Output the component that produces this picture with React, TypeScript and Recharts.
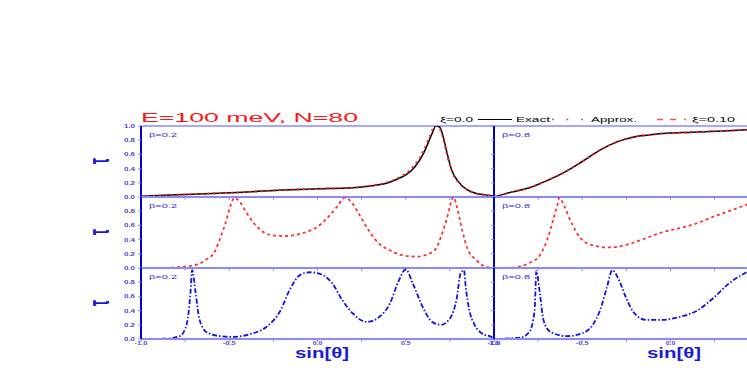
import React from 'react'
import { LineChart, Line, XAxis, YAxis, ReferenceLine } from 'recharts'

// sin(theta) grid and transmission values
const xTopLeft = [-1, -0.8, -0.6, -0.4, -0.2, 0, 0.2, 0.3, 0.4, 0.45, 0.5, 0.55, 0.6, 0.63, 0.65, 0.67, 0.69, 0.71, 0.73, 0.76, 0.8, 0.85, 0.9, 0.95, 1.0]
const exactTopLeft = [0.01, 0.03, 0.05, 0.07, 0.1, 0.115, 0.13, 0.155, 0.2, 0.25, 0.31, 0.42, 0.61, 0.78, 0.9, 1.0, 0.99, 0.87, 0.66, 0.38, 0.21, 0.1, 0.05, 0.03, 0.01]
const approxTopLeft = [0.01, 0.03, 0.05, 0.07, 0.1, 0.115, 0.13, 0.16, 0.21, 0.26, 0.33, 0.45, 0.65, 0.82, 0.94, 1.0, 0.97, 0.84, 0.63, 0.37, 0.2, 0.1, 0.05, 0.03, 0.01]

const xTopRight = [-1, -0.9, -0.8, -0.7, -0.6, -0.5, -0.4, -0.3, -0.2, -0.1, 0, 0.1, 0.2, 0.3, 0.45]
const exactTopRight = [0.0, 0.07, 0.13, 0.23, 0.35, 0.5, 0.66, 0.78, 0.85, 0.88, 0.9, 0.91, 0.92, 0.93, 0.95]
const approxTopRight = [0.0, 0.07, 0.13, 0.23, 0.35, 0.5, 0.66, 0.78, 0.85, 0.88, 0.9, 0.91, 0.92, 0.93, 0.95]

const xMidLeft = [-1, -0.9, -0.8, -0.72, -0.68, -0.63, -0.58, -0.55, -0.52, -0.49, -0.47, -0.44, -0.4, -0.36, -0.31, -0.25, -0.18, -0.1, -0.05, 0, 0.05, 0.11, 0.155, 0.18, 0.24, 0.29, 0.35, 0.41, 0.48, 0.56, 0.61, 0.67, 0.7, 0.73, 0.76, 0.77, 0.79, 0.82, 0.85, 0.9, 0.95, 1.0]
const xi010MidLeft = [0, 0, 0.01, 0.03, 0.05, 0.12, 0.24, 0.43, 0.64, 0.9, 0.99, 0.93, 0.77, 0.63, 0.51, 0.46, 0.45, 0.48, 0.52, 0.58, 0.69, 0.86, 0.99, 0.96, 0.74, 0.53, 0.34, 0.25, 0.18, 0.16, 0.18, 0.27, 0.44, 0.67, 0.95, 1.0, 0.86, 0.53, 0.27, 0.11, 0.02, 0]

const xMidRight = [-1, -0.9, -0.8, -0.74, -0.7, -0.67, -0.64, -0.63, -0.6, -0.56, -0.51, -0.44, -0.35, -0.23, -0.14, -0.05, 0.05, 0.15, 0.24, 0.33, 0.45]
const xi010MidRight = [0, 0.005, 0.07, 0.18, 0.39, 0.63, 0.9, 0.99, 0.86, 0.63, 0.42, 0.32, 0.29, 0.34, 0.42, 0.5, 0.56, 0.63, 0.72, 0.8, 0.91]

const xBotLeft = [-1, -0.86, -0.78, -0.74, -0.72, -0.71, -0.69, -0.67, -0.63, -0.55, -0.48, -0.38, -0.29, -0.21, -0.16, -0.1, -0.045, 0.01, 0.085, 0.14, 0.2, 0.28, 0.35, 0.41, 0.46, 0.5, 0.54, 0.6, 0.65, 0.7, 0.75, 0.79, 0.81, 0.83, 0.84, 0.86, 0.89, 0.93, 0.99, 1.0]
const blueBotLeft = [0, 0.005, 0.04, 0.22, 0.64, 0.97, 0.64, 0.29, 0.1, 0.04, 0.03, 0.07, 0.17, 0.4, 0.68, 0.9, 0.94, 0.92, 0.78, 0.55, 0.36, 0.24, 0.31, 0.5, 0.82, 0.98, 0.78, 0.43, 0.24, 0.2, 0.29, 0.59, 0.92, 0.97, 0.73, 0.41, 0.2, 0.08, 0.02, 0]

const xBotRight = [-1, -0.85, -0.8, -0.77, -0.76, -0.74, -0.72, -0.68, -0.59, -0.5, -0.44, -0.4, -0.36, -0.33, -0.29, -0.25, -0.21, -0.14, -0.05, 0.05, 0.15, 0.24, 0.33, 0.43]
const blueBotRight = [0, 0.02, 0.1, 0.4, 0.96, 0.64, 0.27, 0.1, 0.04, 0.08, 0.2, 0.4, 0.73, 0.97, 0.82, 0.57, 0.38, 0.27, 0.27, 0.31, 0.4, 0.57, 0.78, 0.94]

const xTicks = [-1, -0.75, -0.5, -0.25, 0, 0.25, 0.5, 0.75, 1]
const yTicksTop = [0, 0.2, 0.4, 0.6, 0.8, 1.0]
const yTicksLower = [0, 0.2, 0.4, 0.6, 0.8]

const FRAME = '#8a8aff'
const AXIS = '#0000d0'
const TICK_TEXT = '#4646dc'
const FONT = '"Liberation Sans", Arial, sans-serif'

const PLOT_W = 353
const PLOT_H = 71
const Y_W = 30
const TOP_PAD = 4
const X_H = 16

type Series = { key: string; color: string; dash?: string; width: number }

const EXACT: Series = { key: 'exact', color: '#000000', width: 1.5 }
const APPROX: Series = { key: 'approx', color: '#ff2020', dash: '2 4', width: 2 }
const XI010: Series = { key: 'xi', color: '#ff3030', dash: '3 3', width: 1.8 }
const BLUE: Series = { key: 'blue', color: '#1010e8', dash: '5 2 1.5 2', width: 1.8 }

function rows(xs: number[], cols: Record<string, number[]>) {
  return xs.map((x, i) => {
    const r: Record<string, number> = { x }
    for (const k of Object.keys(cols)) r[k] = cols[k][i]
    return r
  })
}

const XTick = ({ x, y, payload, show, maxLabel }: any) => {
  const v = payload.value
  if (!show || v > maxLabel || Math.abs(v * 2 - Math.round(v * 2)) > 1e-6) return <g />
  const label = v.toFixed(1)
  return (
    <text x={x} y={y + 1} textAnchor="middle" fontSize={5.5} fontFamily={FONT} fontWeight="bold"
      fill={TICK_TEXT} textLength={label.length * 3.2} lengthAdjust="spacingAndGlyphs">
      {label}
    </text>
  )
}

const YTick = ({ x, y, payload, show }: any) => {
  if (!show) return <g />
  const label = payload.value.toFixed(1)
  return (
    <text x={x - 1} y={y + 2} textAnchor="end" fontSize={5.5} fontFamily={FONT} fontWeight="bold"
      fill={TICK_TEXT} textLength={11} lengthAdjust="spacingAndGlyphs">
      {label}
    </text>
  )
}

interface PanelProps {
  left: number
  top: number
  data: Array<Record<string, number>>
  series: Series[]
  yTicks: number[]
  xLabels: boolean
  yLabels: boolean
  maxLabel?: number
}

function Panel({ left, top, data, series, yTicks, xLabels, yLabels, maxLabel = 1 }: PanelProps) {
  return (
    <div style={{ position: 'absolute', left: left - Y_W, top: top - TOP_PAD }}>
      <LineChart width={Y_W + PLOT_W + 10} height={TOP_PAD + PLOT_H + X_H} data={data}
        margin={{ top: TOP_PAD, right: 10, bottom: 0, left: 0 }}>
        <XAxis dataKey="x" type="number" domain={[-1, 1]} ticks={xTicks} interval={0} allowDataOverflow
          height={X_H} stroke={FRAME} axisLine={{ stroke: FRAME, strokeWidth: 2 }}
          tickLine={{ stroke: FRAME }} tickSize={3} tick={<XTick show={xLabels} maxLabel={maxLabel} />} />
        <YAxis type="number" domain={[0, 1]} ticks={yTicks} interval={0} width={Y_W} allowDataOverflow
          axisLine={{ stroke: AXIS, strokeWidth: 2 }} tickLine={{ stroke: FRAME }} tickSize={3}
          tick={<YTick show={yLabels} />} />
        <ReferenceLine y={1} stroke={FRAME} strokeWidth={1.5} />
        <ReferenceLine x={1} stroke={FRAME} strokeWidth={1.5} />
        {series.map((s) => (
          <Line key={s.key} dataKey={s.key} type="monotone" stroke={s.color} strokeWidth={s.width}
            strokeDasharray={s.dash} dot={false} isAnimationActive={false} />
        ))}
      </LineChart>
    </div>
  )
}

const LEFT_X = 141
const RIGHT_X = 494
const ROW_TOPS = [126, 197, 268]

export default function App() {
  const txt = { fontFamily: FONT }
  return (
    <div style={{ position: 'absolute', left: 0, top: 0, width: 747, height: 382, overflow: 'hidden', background: '#fff' }}>
      <Panel left={LEFT_X} top={ROW_TOPS[0]} data={rows(xTopLeft, { exact: exactTopLeft, approx: approxTopLeft })}
        series={[EXACT, APPROX]} yTicks={yTicksTop} xLabels={false} yLabels />
      <Panel left={RIGHT_X} top={ROW_TOPS[0]} data={rows(xTopRight, { exact: exactTopRight, approx: approxTopRight })}
        series={[EXACT, APPROX]} yTicks={yTicksTop} xLabels={false} yLabels={false} />
      <Panel left={LEFT_X} top={ROW_TOPS[1]} data={rows(xMidLeft, { xi: xi010MidLeft })}
        series={[XI010]} yTicks={yTicksLower} xLabels={false} yLabels />
      <Panel left={RIGHT_X} top={ROW_TOPS[1]} data={rows(xMidRight, { xi: xi010MidRight })}
        series={[XI010]} yTicks={yTicksLower} xLabels={false} yLabels={false} />
      <Panel left={LEFT_X} top={ROW_TOPS[2]} data={rows(xBotLeft, { blue: blueBotLeft })}
        series={[BLUE]} yTicks={yTicksLower} xLabels yLabels />
      <Panel left={RIGHT_X} top={ROW_TOPS[2]} data={rows(xBotRight, { blue: blueBotRight })}
        series={[BLUE]} yTicks={yTicksLower} xLabels yLabels={false} maxLabel={0.25} />

      <svg width={747} height={382} style={{ position: 'absolute', left: 0, top: 0, pointerEvents: 'none' }}>
        <text x={141} y={122} fontSize={13} fill="#ff1414" textLength={217} lengthAdjust="spacingAndGlyphs" style={txt}>
          E=100 meV, N=80
        </text>
        <text x={440} y={122} fontSize={8} fill="#000" textLength={33} lengthAdjust="spacingAndGlyphs" style={txt}>ξ=0.0</text>
        <line x1={478} x2={512} y1={119.5} y2={119.5} stroke="#000" strokeWidth={1.2} />
        <text x={516} y={122} fontSize={8} fill="#000" textLength={34} lengthAdjust="spacingAndGlyphs" style={txt}>Exact</text>
        <line x1={552} x2={584} y1={119.5} y2={119.5} stroke="#ff2020" strokeWidth={1.6} strokeDasharray="1.6 13" />
        <text x={591} y={122} fontSize={8} fill="#000" textLength={46} lengthAdjust="spacingAndGlyphs" style={txt}>Approx.</text>
        <line x1={657} x2={689} y1={119.5} y2={119.5} stroke="#ff5050" strokeWidth={1.6} strokeDasharray="6 7 6 8 2 9" />
        <text x={692} y={122} fontSize={8} fill="#000" textLength={43} lengthAdjust="spacingAndGlyphs" style={txt}>ξ=0.10</text>

        {ROW_TOPS.map((t) => (
          <g key={t}>
            <text x={149} y={t + 11} fontSize={6} fill="#3030e0" textLength={28} lengthAdjust="spacingAndGlyphs" style={txt}>β=0.2</text>
            <text x={502} y={t + 11} fontSize={6} fill="#3030e0" textLength={28} lengthAdjust="spacingAndGlyphs" style={txt}>β=0.8</text>
            <text x={0} y={0} fontSize={11} fontWeight="bold" fill="#1a1ad8" textAnchor="middle"
              transform={`translate(109 ${t + 35}) rotate(-90) scale(1.2 2.6)`} style={txt}>τ</text>
          </g>
        ))}

        <text x={295} y={358} fontSize={14} fontWeight="bold" fill="#1a1ad8" textLength={54} lengthAdjust="spacingAndGlyphs" style={txt}>sin[θ]</text>
        <text x={647} y={358} fontSize={14} fontWeight="bold" fill="#1a1ad8" textLength={54} lengthAdjust="spacingAndGlyphs" style={txt}>sin[θ]</text>
      </svg>
    </div>
  )
}
